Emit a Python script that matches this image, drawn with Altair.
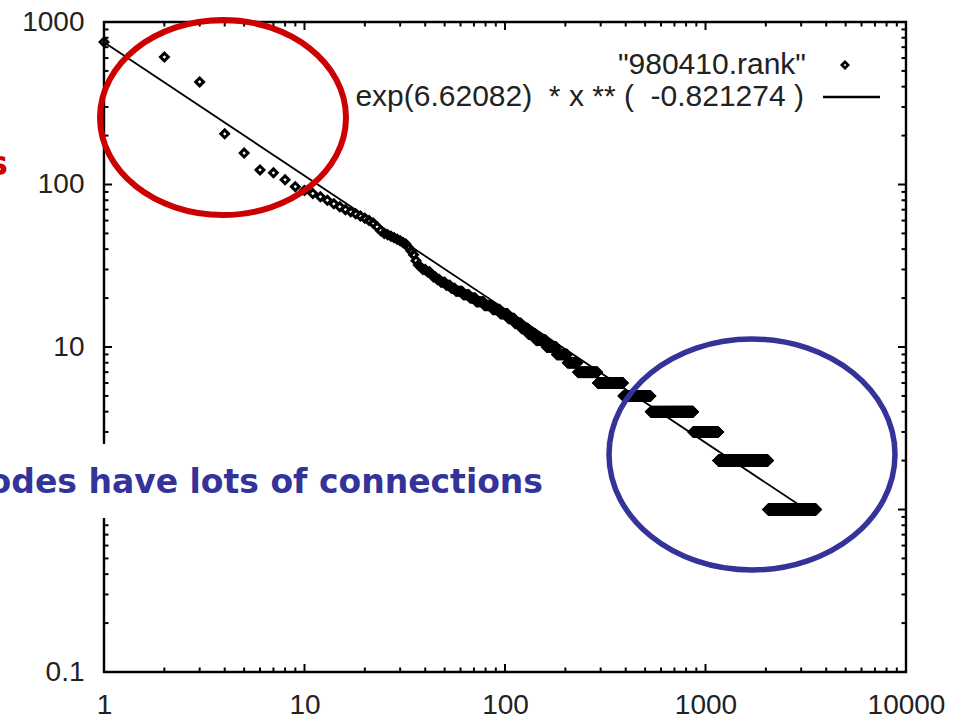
import altair as alt
import pandas as pd

# ---------------- data ----------------
# out-degree of the 43 highest-ranked nodes (rank 1..43)
top_degrees = [753, 609, 428, 205, 156, 123, 118, 107, 97,
               92, 88, 84, 80, 76, 73, 70, 68, 66, 64, 62, 60, 58, 55, 52,
               50, 49, 48, 47, 46, 45, 44, 43, 41, 39, 37, 34, 32, 31, 30,
               30, 29, 29, 28]
# remaining nodes: degree value and how many nodes share it (plateaus)
hist_degree = [27, 26, 25, 24, 23, 22, 21, 20, 19, 18, 17, 16, 15, 14,
               13, 12, 11, 10, 9, 8, 7, 6, 5, 4, 3, 2, 1]
hist_count = [2, 2, 3, 3, 3, 5, 5, 5, 7, 8, 8, 9, 8, 9,
              10, 12, 18, 20, 24, 26, 59, 99, 144, 336, 287, 895, 1506]

fit_log_coef = 6.62082
fit_exponent = -0.821274
fit_x_range = [1, 3000]

x_major = [1, 10, 100, 1000, 10000]
y_major = [0.1, 1, 10, 100, 1000]
multipliers = [2, 3, 4, 5, 6, 7, 8, 9]

series_label = '"980410.rank"'
fit_label = f"exp({fit_log_coef})\u00a0\u00a0* x ** (\u00a0\u00a0{fit_exponent} )"
note_red = "Most nodes have few connections"
note_blue = "Few nodes have lots of connections"

# ---------------- build tables ----------------
degrees = list(top_degrees)
for d, c in zip(hist_degree, hist_count):
    degrees += [d] * c
df = pd.DataFrame({"rank": range(1, len(degrees) + 1), "degree": degrees})

x_minor = [m * v for v in x_major[:-1] for m in multipliers]
y_minor = [m * v for v in y_major[:-1] for m in multipliers]

W, H = 802, 650
FONT = "Liberation Sans"
LABEL_COLOR = "#222222"

xs = alt.Scale(type="log", domain=[1, 10000], nice=False)
ys = alt.Scale(type="log", domain=[0.1, 1000], nice=False)
xax = alt.Axis(values=x_major, format="~g", ticks=False, tickSize=0, domain=False,
               grid=False, labelFlush=False, labelOverlap=False, labelFont=FONT,
               labelFontSize=28, labelColor=LABEL_COLOR, labelPadding=19, title=None)
yax = alt.Axis(values=y_major, format="~g", ticks=False, tickSize=0, domain=False,
               grid=False, labelFlush=False, labelOverlap=False, labelFont=FONT,
               labelFontSize=28, labelColor=LABEL_COLOR, labelPadding=20, title=None)


def X(field):
    return alt.X(f"{field}:Q", scale=xs, axis=xax)


def Y(field):
    return alt.Y(f"{field}:Q", scale=ys, axis=yax)


layers = []
# inward ticks on all four sides
for vals, L in ((x_major, 8), (x_minor, 4.5)):
    d = pd.DataFrame({"v": vals})
    layers.append(alt.Chart(d).mark_rule(color="black", strokeWidth=2).encode(
        x=X("v"), y=alt.value(H), y2=alt.value(H - L)))
    layers.append(alt.Chart(d).mark_rule(color="black", strokeWidth=2).encode(
        x=X("v"), y=alt.value(0), y2=alt.value(L)))
for vals, L in ((y_major, 8), (y_minor, 4.5)):
    d = pd.DataFrame({"v": vals})
    layers.append(alt.Chart(d).mark_rule(color="black", strokeWidth=2).encode(
        y=Y("v"), x=alt.value(0), x2=alt.value(L)))
    layers.append(alt.Chart(d).mark_rule(color="black", strokeWidth=2).encode(
        y=Y("v"), x=alt.value(W), x2=alt.value(W - L)))

# fitted power law
fit = alt.Chart(pd.DataFrame({"rank": fit_x_range})).transform_calculate(
    fit=f"exp({fit_log_coef}) * pow(datum.rank, {fit_exponent})"
).mark_line(color="black", strokeWidth=1.8).encode(x=X("rank"), y=Y("fit"))
layers.append(fit)

# data points
pts = alt.Chart(df).mark_point(shape="diamond", filled=False, color="black",
                               strokeWidth=3, size=60, opacity=1).encode(
    x=X("rank"), y=Y("degree"))
layers.append(pts)

one = pd.DataFrame({"k": [0]})
# legend
layers.append(alt.Chart(one).mark_text(text=series_label, align="right", baseline="middle",
                                       font=FONT, fontSize=30, color=LABEL_COLOR).encode(
    x=alt.value(702), y=alt.value(43)))
layers.append(alt.Chart(one).mark_text(text=fit_label, align="right", baseline="middle",
                                       font=FONT, fontSize=30, color=LABEL_COLOR).encode(
    x=alt.value(700), y=alt.value(75)))
layers.append(alt.Chart(one).mark_point(shape="diamond", filled=False, color="black",
                                        strokeWidth=2.6, size=40, opacity=1).encode(
    x=alt.value(741), y=alt.value(43)))
layers.append(alt.Chart(one).mark_rule(color="black", strokeWidth=2.6).encode(
    x=alt.value(719), x2=alt.value(776), y=alt.value(75)))

# annotation ellipses
red_path = "M-1,0A1,0.7927,0,1,1,1,0A1,0.7927,0,1,1,-1,0Z"
blue_path = "M-1,0A1,0.8077,0,1,1,1,0A1,0.8077,0,1,1,-1,0Z"
layers.append(alt.Chart(one).mark_point(shape=red_path, filled=False, color="#CC0000",
                                        strokeWidth=6, opacity=1).encode(
    x=alt.value(119), y=alt.value(95.5), size=alt.value(246 ** 2)))
layers.append(alt.Chart(one).mark_point(shape=blue_path, filled=False, color="#333399",
                                        strokeWidth=5.5, opacity=1).encode(
    x=alt.value(648), y=alt.value(432.5), size=alt.value(286 ** 2)))

# overlaid slide text (cut by the left edge)
layers.append(alt.Chart(one).mark_rect(color="white", opacity=1).encode(
    x=alt.value(-104), x2=alt.value(444), y=alt.value(422), y2=alt.value(496)))
layers.append(alt.Chart(one).mark_text(text=note_blue, align="right", baseline="alphabetic",
                                       font="DejaVu Sans", fontWeight="bold", fontSize=33,
                                       color="#333399").encode(
    x=alt.value(439), y=alt.value(471)))
layers.append(alt.Chart(one).mark_text(text=note_red, align="right", baseline="alphabetic",
                                       font="DejaVu Sans", fontWeight="bold", fontSize=33,
                                       color="#CC0000").encode(
    x=alt.value(-96), y=alt.value(153)))

chart = alt.layer(*layers).properties(
    width=W, height=H,
    autosize=alt.AutoSizeParams(type="none"),
    padding={"left": 104, "top": 22, "right": 63, "bottom": 47},
    background="white",
).configure_view(stroke="black", strokeWidth=2.4)

chart.save("out.html", embed_options={"renderer": "svg", "actions": False})
